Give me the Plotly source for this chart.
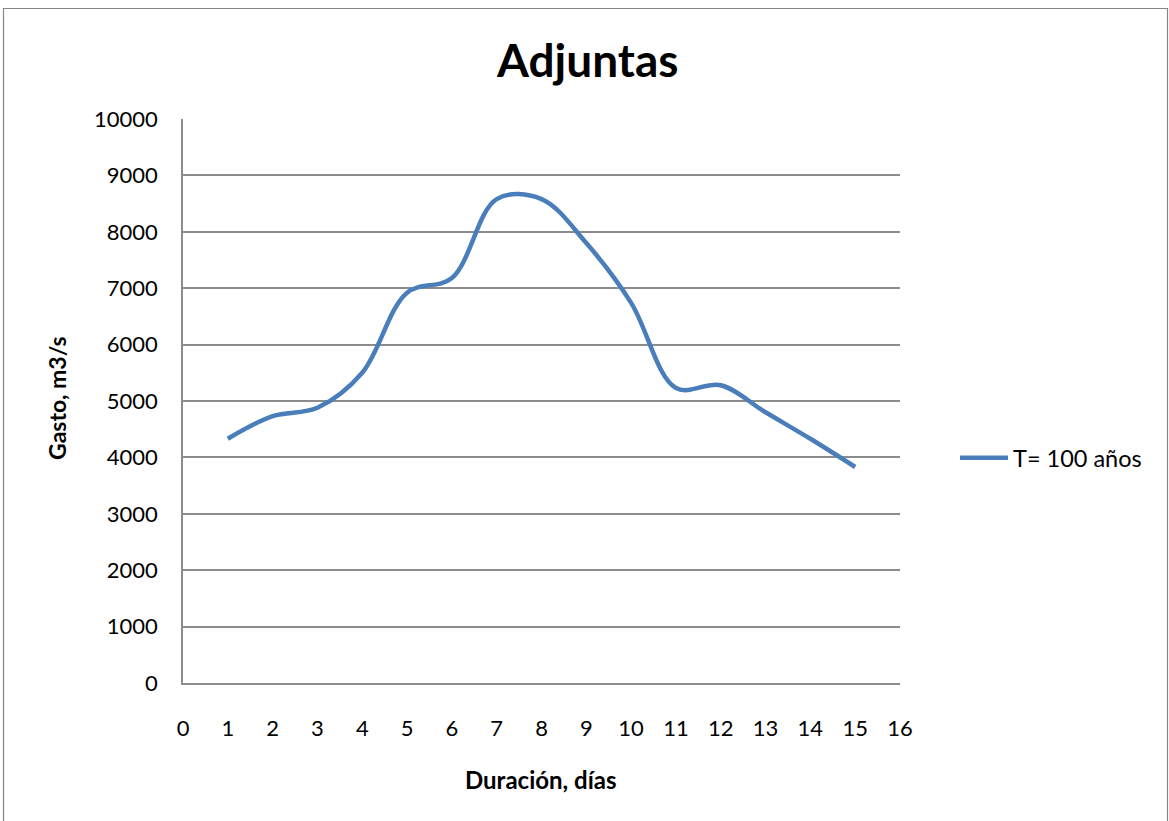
import plotly.graph_objects as go

dias = list(range(1, 16))
gasto = [4330, 4730, 4880, 5500, 6920, 7180, 8580, 8580, 7800, 6740, 5230, 5280, 4800, 4330, 3830]
serie = "T= 100 años"
titulo = "Adjuntas"
x_titulo = "Duración, días"
y_titulo = "Gasto, m3/s"

W, H = 1169, 821
L, R, T, B = 183, 900, 119, 683
pw, ph = R - L, B - T

def px(xp):
    return (xp - L) / pw

def py(yp):
    return (B - yp) / ph

FONT = "Lato"
fig = go.Figure()
fig.add_trace(go.Scatter(
    x=dias, y=gasto, mode="lines", name=serie,
    line=dict(color="#4a7ebb", width=4.5, shape="spline", smoothing=1.0),
))

grid = "#8c8c8c"
fig.update_layout(
    width=W, height=H,
    margin=dict(l=L, r=W - R, t=T, b=H - B, autoexpand=False),
    paper_bgcolor="white", plot_bgcolor="white",
    font=dict(family=FONT, color="black", size=22),
    showlegend=True,
    legend=dict(x=px(955), y=py(458), xanchor="left", yanchor="middle",
                font=dict(size=23.5, family=FONT), bgcolor="rgba(0,0,0,0)",
                itemwidth=48),
    xaxis=dict(range=[0, 16], tickmode="linear", tick0=0, dtick=1,
               showgrid=False, zeroline=False, showline=True,
               linecolor=grid, linewidth=1.5, ticks="",
               ticklabelstandoff=25, tickfont=dict(size=22, family=FONT)),
    yaxis=dict(range=[0, 10000], tickmode="linear", tick0=0, dtick=1000,
               tickformat="d",
               showgrid=True, gridcolor=grid, gridwidth=1.5,
               zeroline=False, showline=True, linecolor=grid, linewidth=1.5,
               ticks="", ticklabelstandoff=19, tickfont=dict(size=22, family=FONT)),
    annotations=[
        dict(text="<b>" + titulo + "</b>", x=px(587), y=py(60), xref="paper", yref="paper",
             showarrow=False, font=dict(size=46, family=FONT), xanchor="center", yanchor="middle"),
        dict(text="<b>" + x_titulo + "</b>", x=px(541), y=py(779), xref="paper", yref="paper",
             showarrow=False, font=dict(size=24, family=FONT), xanchor="center", yanchor="middle"),
        dict(text="<b>" + y_titulo + "</b>", x=px(57), y=py(398), xref="paper", yref="paper",
             showarrow=False, font=dict(size=23, family=FONT), textangle=-90,
             xanchor="center", yanchor="middle"),
    ],
    shapes=[
        dict(type="rect", xref="paper", yref="paper",
             x0=px(3.5), x1=px(1167.5), y0=py(8.5), y1=py(830),
             line=dict(color="#868686", width=1.2), fillcolor="rgba(0,0,0,0)", layer="below"),
    ],
)

fig.write_html("out.html", config={"displayModeBar": False},
               post_script="document.body.style.margin='0';document.body.style.padding='0';")
